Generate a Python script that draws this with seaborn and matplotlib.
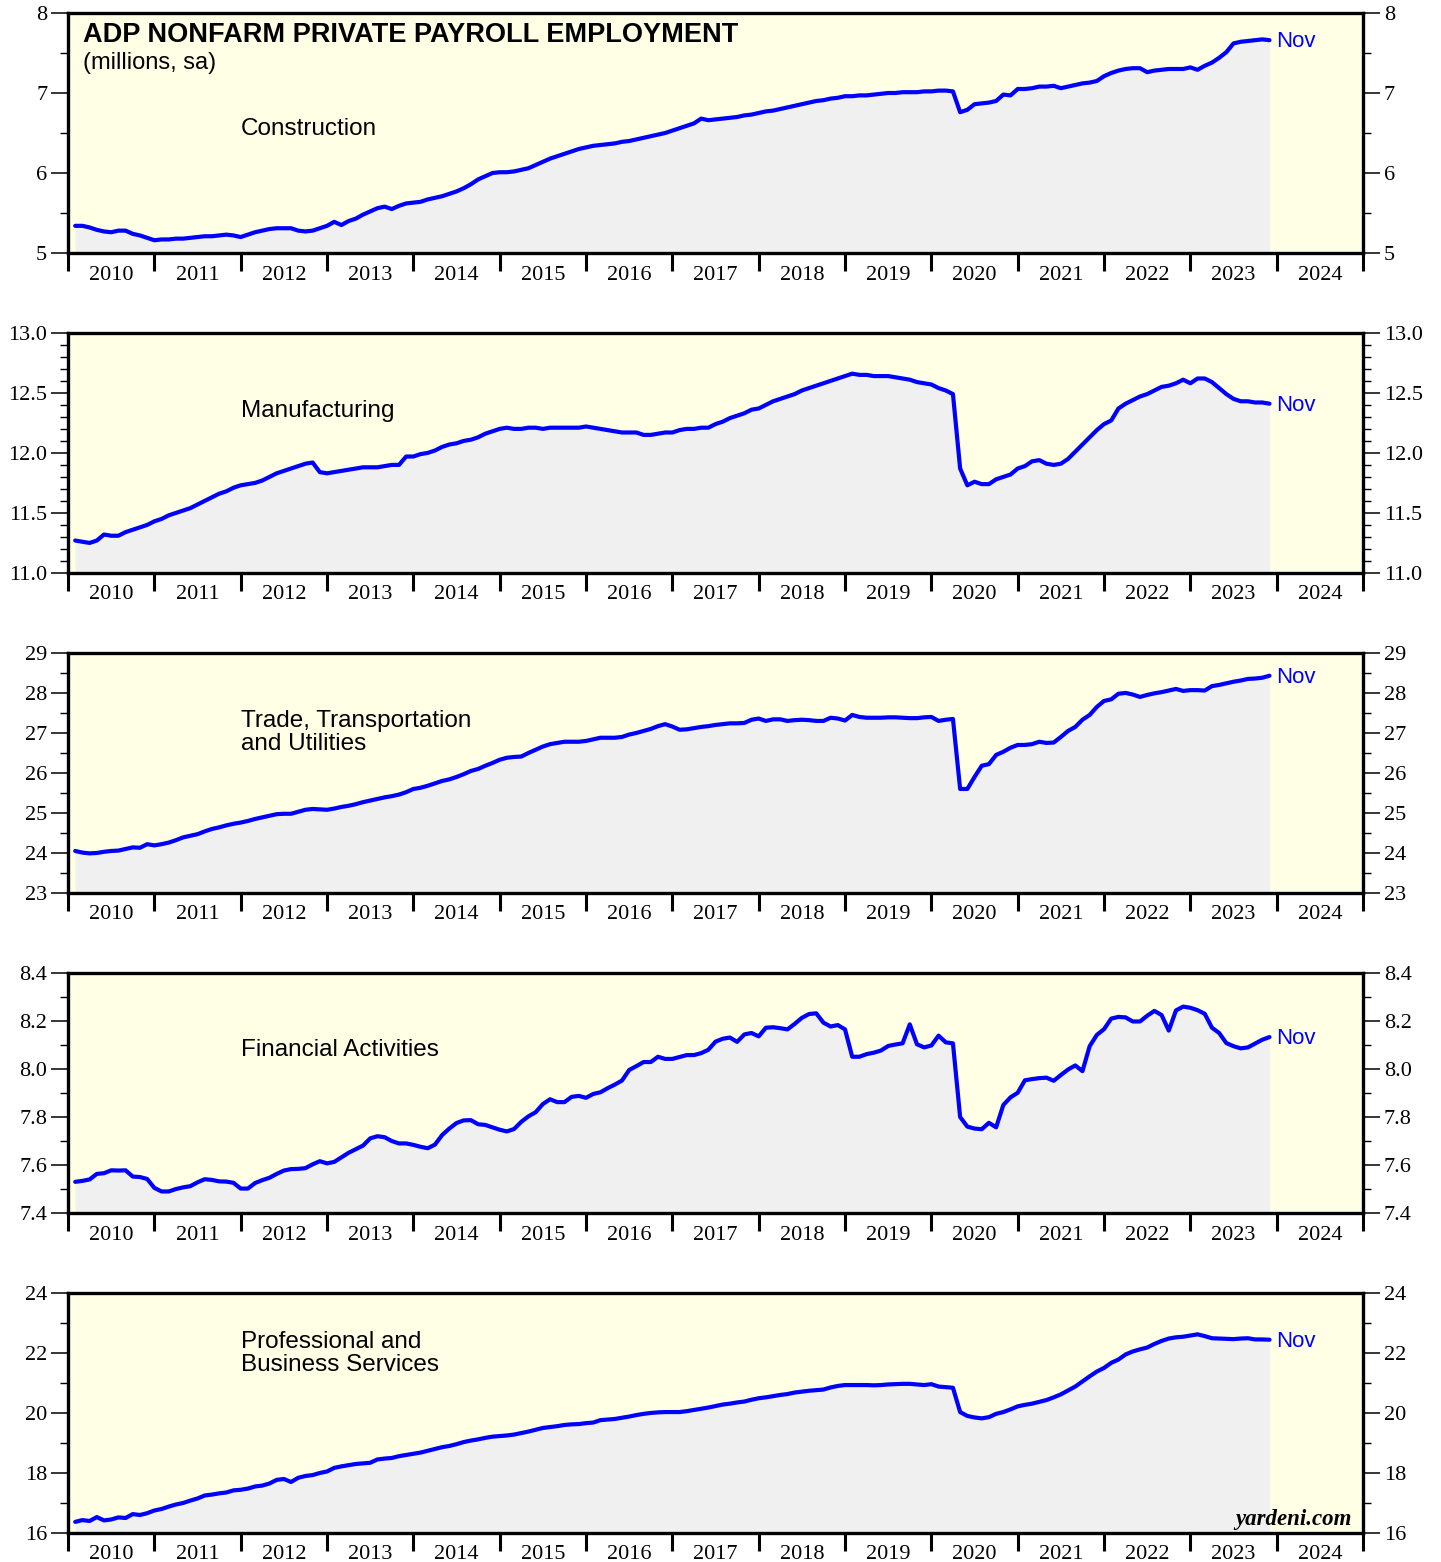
import numpy as np
import pandas as pd
import matplotlib
matplotlib.use("Agg")
import matplotlib.pyplot as plt
import matplotlib.ticker as mticker
import seaborn as sns

# ADP nonfarm private payroll employment, millions, sa, Jan 2010 - Nov 2023 (monthly)
construction = [
    5.34, 5.34, 5.32, 5.29, 5.27, 5.26, 5.28, 5.28, 5.24, 5.22, 5.19, 5.16,
    5.17, 5.17, 5.18, 5.18, 5.19, 5.20, 5.21, 5.21, 5.22, 5.23, 5.22, 5.20,
    5.23, 5.26, 5.28, 5.30, 5.31, 5.31, 5.31, 5.28, 5.27, 5.28, 5.31, 5.34,
    5.39, 5.35, 5.40, 5.43, 5.48, 5.52, 5.56, 5.58, 5.55, 5.59, 5.62, 5.63,
    5.64, 5.67, 5.69, 5.71, 5.74, 5.77, 5.81, 5.86, 5.92, 5.96, 6.00, 6.01,
    6.01, 6.02, 6.04, 6.06, 6.10, 6.14, 6.18, 6.21, 6.24, 6.27, 6.30, 6.32,
    6.34, 6.35, 6.36, 6.37, 6.39, 6.40, 6.42, 6.44, 6.46, 6.48, 6.50, 6.53,
    6.56, 6.59, 6.62, 6.68, 6.66, 6.67, 6.68, 6.69, 6.70, 6.72, 6.73, 6.75,
    6.77, 6.78, 6.80, 6.82, 6.84, 6.86, 6.88, 6.90, 6.91, 6.93, 6.94, 6.96,
    6.96, 6.97, 6.97, 6.98, 6.99, 7.00, 7.00, 7.01, 7.01, 7.01, 7.02, 7.02,
    7.03, 7.03, 7.02, 6.76, 6.79, 6.86, 6.87, 6.88, 6.90, 6.98, 6.97, 7.05,
    7.05, 7.06, 7.08, 7.08, 7.09, 7.06, 7.08, 7.10, 7.12, 7.13, 7.15, 7.21,
    7.25, 7.28, 7.30, 7.31, 7.31, 7.26, 7.28, 7.29, 7.30, 7.30, 7.30, 7.32,
    7.29, 7.34, 7.38, 7.44, 7.51, 7.62, 7.64, 7.65, 7.66, 7.67, 7.66,
]
manufacturing = [
    11.27, 11.26, 11.25, 11.27, 11.32, 11.31, 11.31, 11.34, 11.36, 11.38, 11.40, 11.43,
    11.45, 11.48, 11.50, 11.52, 11.54, 11.57, 11.60, 11.63, 11.66, 11.68, 11.71, 11.73,
    11.74, 11.75, 11.77, 11.80, 11.83, 11.85, 11.87, 11.89, 11.91, 11.92, 11.84, 11.83,
    11.84, 11.85, 11.86, 11.87, 11.88, 11.88, 11.88, 11.89, 11.90, 11.90, 11.97, 11.97,
    11.99, 12.00, 12.02, 12.05, 12.07, 12.08, 12.10, 12.11, 12.13, 12.16, 12.18, 12.20,
    12.21, 12.20, 12.20, 12.21, 12.21, 12.20, 12.21, 12.21, 12.21, 12.21, 12.21, 12.22,
    12.21, 12.20, 12.19, 12.18, 12.17, 12.17, 12.17, 12.15, 12.15, 12.16, 12.17, 12.17,
    12.19, 12.20, 12.20, 12.21, 12.21, 12.24, 12.26, 12.29, 12.31, 12.33, 12.36, 12.37,
    12.40, 12.43, 12.45, 12.47, 12.49, 12.52, 12.54, 12.56, 12.58, 12.60, 12.62, 12.64,
    12.66, 12.65, 12.65, 12.64, 12.64, 12.64, 12.63, 12.62, 12.61, 12.59, 12.58, 12.57,
    12.54, 12.52, 12.49, 11.87, 11.73, 11.76, 11.74, 11.74, 11.78, 11.80, 11.82, 11.87,
    11.89, 11.93, 11.94, 11.91, 11.90, 11.91, 11.95, 12.01, 12.07, 12.13, 12.19, 12.24,
    12.27, 12.37, 12.41, 12.44, 12.47, 12.49, 12.52, 12.55, 12.56, 12.58, 12.61, 12.58,
    12.62, 12.62, 12.59, 12.54, 12.49, 12.45, 12.43, 12.43, 12.42, 12.42, 12.41,
]
trade = [
    24.05, 24.01, 23.99, 24.00, 24.03, 24.05, 24.06, 24.10, 24.14, 24.13, 24.22, 24.19,
    24.22, 24.26, 24.32, 24.39, 24.43, 24.47, 24.54, 24.60, 24.64, 24.69, 24.73, 24.76,
    24.80, 24.85, 24.89, 24.93, 24.97, 24.98, 24.98, 25.03, 25.08, 25.10, 25.09, 25.08,
    25.11, 25.15, 25.18, 25.22, 25.27, 25.31, 25.35, 25.39, 25.42, 25.46, 25.52, 25.60,
    25.63, 25.68, 25.74, 25.80, 25.84, 25.90, 25.97, 26.05, 26.10, 26.18, 26.25, 26.33,
    26.38, 26.40, 26.41, 26.50, 26.58, 26.66, 26.72, 26.75, 26.78, 26.78, 26.78, 26.80,
    26.84, 26.88, 26.88, 26.88, 26.90, 26.96, 27.00, 27.05, 27.10, 27.17, 27.22, 27.16,
    27.08, 27.09, 27.12, 27.15, 27.17, 27.20, 27.22, 27.24, 27.24, 27.25, 27.33, 27.36,
    27.30, 27.34, 27.34, 27.30, 27.32, 27.33, 27.32, 27.30, 27.30, 27.38, 27.36, 27.31,
    27.45, 27.40, 27.38, 27.38, 27.38, 27.39, 27.39, 27.38, 27.37, 27.37, 27.39, 27.40,
    27.30, 27.33, 27.35, 25.60, 25.60, 25.90, 26.18, 26.22, 26.45, 26.53, 26.63, 26.70,
    26.70, 26.72, 26.78, 26.75, 26.76, 26.90, 27.05, 27.15, 27.33, 27.45, 27.65, 27.80,
    27.84, 27.98, 28.00, 27.96, 27.90, 27.95, 27.99, 28.02, 28.06, 28.10, 28.05, 28.07,
    28.07, 28.06, 28.17, 28.20, 28.24, 28.28, 28.31, 28.35, 28.36, 28.38, 28.43,
]
financial = [
    7.530, 7.534, 7.540, 7.563, 7.566, 7.578, 7.577, 7.578, 7.552, 7.550, 7.542, 7.505,
    7.490, 7.490, 7.500, 7.507, 7.512, 7.528, 7.541, 7.538, 7.532, 7.531, 7.526, 7.502,
    7.502, 7.525, 7.537, 7.547, 7.563, 7.577, 7.583, 7.584, 7.587, 7.603, 7.616, 7.607,
    7.613, 7.632, 7.651, 7.666, 7.681, 7.711, 7.720, 7.716, 7.700, 7.690, 7.690, 7.684,
    7.676, 7.670, 7.685, 7.725, 7.752, 7.775, 7.786, 7.787, 7.770, 7.767, 7.757, 7.747,
    7.740, 7.750, 7.780, 7.803, 7.820, 7.854, 7.874, 7.862, 7.862, 7.884, 7.888, 7.880,
    7.896, 7.903, 7.920, 7.935, 7.952, 7.996, 8.012, 8.029, 8.029, 8.051, 8.042, 8.042,
    8.050, 8.058, 8.058, 8.066, 8.080, 8.114, 8.126, 8.131, 8.113, 8.144, 8.150, 8.136,
    8.172, 8.174, 8.170, 8.165, 8.188, 8.213, 8.229, 8.232, 8.193, 8.177, 8.183, 8.165,
    8.051, 8.051, 8.062, 8.068, 8.077, 8.096, 8.102, 8.107, 8.186, 8.103, 8.090, 8.098,
    8.139, 8.111, 8.107, 7.800, 7.760, 7.752, 7.749, 7.776, 7.757, 7.850, 7.882, 7.901,
    7.953, 7.958, 7.962, 7.964, 7.951, 7.975, 7.998, 8.015, 7.991, 8.095, 8.142, 8.166,
    8.210, 8.217, 8.215, 8.198, 8.198, 8.222, 8.242, 8.225, 8.160, 8.244, 8.260, 8.255,
    8.245, 8.230, 8.172, 8.150, 8.108, 8.095, 8.086, 8.090, 8.106, 8.122, 8.133,
]
professional = [
    16.37, 16.43, 16.40, 16.53, 16.42, 16.45, 16.52, 16.50, 16.63, 16.60, 16.66, 16.75,
    16.80, 16.88, 16.95, 17.00, 17.08, 17.15, 17.25, 17.28, 17.32, 17.35, 17.42, 17.44,
    17.48, 17.55, 17.58, 17.65, 17.77, 17.80, 17.70, 17.84, 17.90, 17.93, 18.00, 18.05,
    18.17, 18.22, 18.26, 18.30, 18.32, 18.34, 18.45, 18.48, 18.50, 18.56, 18.60, 18.64,
    18.68, 18.74, 18.80, 18.86, 18.90, 18.96, 19.03, 19.08, 19.12, 19.17, 19.21, 19.23,
    19.25, 19.28, 19.33, 19.38, 19.44, 19.50, 19.53, 19.56, 19.60, 19.62, 19.63, 19.66,
    19.68, 19.76, 19.78, 19.80, 19.84, 19.88, 19.93, 19.97, 20.00, 20.02, 20.03, 20.03,
    20.03, 20.06, 20.10, 20.14, 20.18, 20.23, 20.28, 20.31, 20.35, 20.38, 20.44, 20.49,
    20.52, 20.56, 20.60, 20.63, 20.68, 20.71, 20.74, 20.76, 20.78, 20.85, 20.90, 20.93,
    20.93, 20.93, 20.93, 20.92, 20.93, 20.95, 20.96, 20.97, 20.97, 20.95, 20.93, 20.96,
    20.88, 20.86, 20.84, 20.03, 19.90, 19.85, 19.82, 19.86, 19.97, 20.03, 20.12, 20.22,
    20.27, 20.31, 20.37, 20.43, 20.52, 20.62, 20.75, 20.88, 21.05, 21.22, 21.38, 21.50,
    21.67, 21.78, 21.95, 22.05, 22.12, 22.18, 22.30, 22.40, 22.48, 22.52, 22.54, 22.58,
    22.62, 22.56, 22.49, 22.48, 22.47, 22.46, 22.48, 22.49, 22.45, 22.45, 22.44,
]

labels = ["Construction", "Manufacturing", "Trade, Transportation\nand Utilities",
          "Financial Activities", "Professional and\nBusiness Services"]
ylims = [(5, 8), (11.0, 13.0), (23, 29), (7.4, 8.4), (16, 24)]
steps = [(1, 0.5), (0.5, 0.1), (1, 0.5), (0.2, 0.1), (2, 1)]
yfmt = ["%d", "%.1f", "%d", "%.1f", "%d"]
label_pos = [0.517, 0.675, 0.667, 0.679, 0.746]
years = list(range(2010, 2025))

dates = pd.date_range("2010-01-01", periods=len(construction), freq="MS")
df = pd.DataFrame({
    "t": dates.year + dates.month / 12.0,
    "construction": construction,
    "manufacturing": manufacturing,
    "trade": trade,
    "financial": financial,
    "professional": professional,
})
cols = ["construction", "manufacturing", "trade", "financial", "professional"]

sns.set_theme(style="ticks")
plt.rcParams["font.family"] = ["Liberation Sans", "DejaVu Sans"]

fig = plt.figure(figsize=(14.41, 15.62), dpi=100)
bottoms = [0.838, 0.6332, 0.4283, 0.2234, 0.01857]
serif = ["Liberation Serif", "DejaVu Serif"]

for k, col in enumerate(cols):
    ax = fig.add_axes([0.0472, bottoms[k], 0.8987, 0.1537])
    ax.set_facecolor("#FFFFE6")
    lo, hi = ylims[k]
    ax.fill_between(df["t"], lo, df[col], color="#F0F0F0", lw=0, zorder=1)
    sns.lineplot(data=df, x="t", y=col, ax=ax, color="#0000FF", lw=3.0, zorder=3)
    ax.set_xlim(2010, 2025)
    ax.set_ylim(lo, hi)
    ax.set_xlabel("")
    ax.set_ylabel("")

    # x axis: long ticks at year boundaries, labels centred in each year
    ax.xaxis.set_major_locator(mticker.FixedLocator(list(range(2010, 2026))))
    ax.xaxis.set_major_formatter(mticker.NullFormatter())
    ax.xaxis.set_minor_locator(mticker.FixedLocator([y + 0.5 for y in years]))
    ax.xaxis.set_minor_formatter(mticker.FixedFormatter([str(y) for y in years]))
    ax.tick_params(axis="x", which="major", direction="out", length=13, width=2.2, color="black")
    ax.tick_params(axis="x", which="minor", length=0, pad=9, labelsize=16)

    # y axis both sides
    ax.yaxis.set_major_locator(mticker.MultipleLocator(steps[k][0]))
    ax.yaxis.set_minor_locator(mticker.MultipleLocator(steps[k][1]))
    ax.yaxis.set_major_formatter(mticker.FormatStrFormatter(yfmt[k]))
    ax.tick_params(axis="y", which="both", left=True, right=True, labelleft=True,
                   labelright=True, direction="out", color="black")
    ax.tick_params(axis="y", which="major", length=12, width=1.1, pad=3, labelsize=16)
    ax.tick_params(axis="y", which="minor", length=6, width=1.0)
    for lab in ax.get_xticklabels(minor=True) + ax.get_yticklabels():
        lab.set_fontfamily(serif)
        lab.set_color("black")

    for s in ax.spines.values():
        s.set_visible(True)
        s.set_linewidth(2.4)
        s.set_color("black")

    ax.text(0.1336, label_pos[k], labels[k], transform=ax.transAxes, fontsize=17.5,
            va="center", ha="left", linespacing=1.05, color="black")
    ax.annotate("Nov", xy=(df["t"].iloc[-1], df[col].iloc[-1]), xytext=(5, -1),
                textcoords="offset points", va="center", ha="left",
                fontsize=16, color="#0000FF")

    if k == 0:
        ax.text(0.0116, 0.879, "ADP NONFARM PRIVATE PAYROLL EMPLOYMENT", transform=ax.transAxes,
                fontsize=19.5, fontweight="bold", va="baseline", ha="left", color="black")
        ax.text(0.0116, 0.767, "(millions, sa)", transform=ax.transAxes,
                fontsize=17, va="baseline", ha="left", color="black")
    if k == 4:
        ax.text(0.9915, 0.033, "yardeni.com", transform=ax.transAxes, fontsize=16.5,
                fontweight="bold", fontstyle="italic", fontfamily=serif,
                va="baseline", ha="right", color="black")

fig.savefig("out.png", dpi=100)
